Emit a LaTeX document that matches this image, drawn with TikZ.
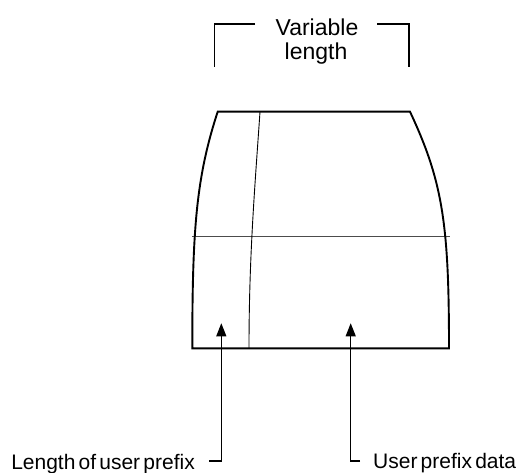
\documentclass[tikz,border=0pt]{standalone}
\usepackage{fontspec}
\setmainfont{Liberation Sans}
\usetikzlibrary{arrows.meta}
\newcommand\tightlabelfont{\fontsize{21}{25}\selectfont\spaceskip=3.2pt plus 1pt\relax}
\begin{document}
\begin{tikzpicture}[x=1pt,y=-1pt,
  outline/.style={line width=1.9pt,line join=miter},
  thinline/.style={line width=0.9pt},
  midline/.style={line width=1.3pt,draw=black!70},
  bracket/.style={line width=1.1pt},
  pointer/.style={line width=1.2pt,-{Triangle[length=13pt,width=10pt]}},
  toplabel/.style={font=\fontsize{23}{27}\selectfont,inner sep=0pt},
  botlabel/.style={font=\tightlabelfont,inner sep=0pt}]
\useasboundingbox (0,0) rectangle (522,473);
% top label and bracket
\node[toplabel,anchor=base] (v1) at (317,36) {Variable};
\node[toplabel,anchor=base] (v2) at (316,60) {length};
\draw[bracket] (255,24) -- (214.7,24) -- (214.7,67);
\draw[bracket] (377,24) -- (409,24) -- (409,67);
% shape
\coordinate (tl) at (217.7,111.7);
\coordinate (tr) at (410,111.7);
\coordinate (br) at (449,348.3);
\coordinate (bl) at (192.3,348.3);
\draw[midline] (192.3,236.7) -- (449.5,236.7);
\draw[thinline] (260,111.7) .. controls (255,185) and (249,255) .. (249,348.3);
\draw[outline] (tl) -- (tr) .. controls (443,182) and (449,225) .. (br) -- (bl)
  .. controls (192.3,230) and (196,178) .. cycle;
% labels and pointers
\node[botlabel,anchor=base east] (lab1) at (195,469) {Length of user prefix};
\node[botlabel,anchor=base west] (lab2) at (373,468) {User prefix data};
\coordinate (tipL) at (221.3,323.3);
\coordinate (tipR) at (350.7,323.3);
\coordinate (eL) at (209.3,461);
\coordinate (eR) at (360,461);
\draw[pointer] (eL) -| (tipL);
\draw[pointer] (eR) -| (tipR);
\end{tikzpicture}
\end{document}
